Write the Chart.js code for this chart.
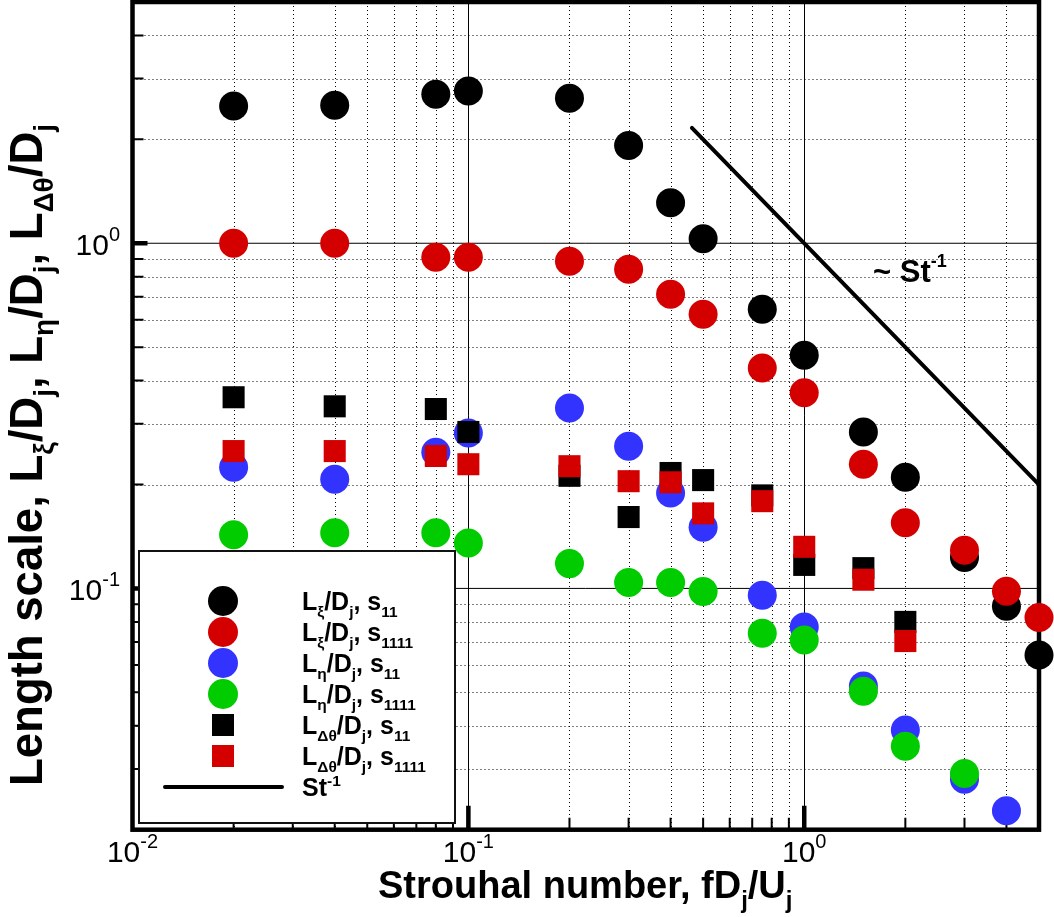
<!DOCTYPE html>
<html><head><meta charset="utf-8">
<script src="https://cdn.jsdelivr.net/npm/chart.js@4"></script>
<style>html,body{margin:0;padding:0;background:#fff;} #wrap{width:1054px;height:917px;position:relative;}</style>
</head><body><div id="wrap"><canvas id="c" width="1054" height="917"></canvas></div>
<script>
// ---- data ----
const strouhal = [0.02, 0.04, 0.08, 0.1, 0.2, 0.3, 0.4, 0.5, 0.75, 1.0, 1.5, 2, 3, 4, 5];
const lXiS11     = [2.50, 2.51, 2.70, 2.76, 2.63, 1.92, 1.31, 1.03, 0.644, 0.474, 0.284, 0.210, 0.123, 0.0888, 0.0641];
const lXiS1111   = [1.00, 1.00, 0.911, 0.911, 0.887, 0.841, 0.712, 0.623, 0.435, 0.369, 0.229, 0.155, 0.129, 0.0982, 0.0824];
const lEtaS11    = [0.2245, 0.207, 0.248, 0.282, 0.333, 0.258, 0.189, 0.1505, 0.0956, 0.0773, 0.0522, 0.0389, 0.0280, 0.0227];
const lEtaS1111  = [0.143, 0.145, 0.145, 0.1355, 0.118, 0.104, 0.104, 0.098, 0.0742, 0.0709, 0.0504, 0.0349, 0.0291];
const lDthS11    = [0.358, 0.337, 0.331, 0.284, 0.212, 0.161, 0.216, 0.206, 0.186, 0.117, 0.1145, 0.080];
const lDthS1111  = [0.250, 0.250, 0.242, 0.229, 0.226, 0.2045, 0.203, 0.165, 0.179, 0.132, 0.106, 0.0704];
const slopeLineX = [0.463, 5];
const slopeLineY = [2.16, 0.2];

const xMajorTicks = [0.01, 0.1, 1];
const xMajorExp   = ['-2', '-1', '0'];
const yMajorTicks = [0.1, 1];
const yMajorExp   = ['-1', '0'];

// legend texts: [text, 0 normal | 1 subscript | 2 superscript]
const legendTexts = [
  [['L',0],['ξ',1],['/D',0],['j',1],[', s',0],['11',1]],
  [['L',0],['ξ',1],['/D',0],['j',1],[', s',0],['1111',1]],
  [['L',0],['η',1],['/D',0],['j',1],[', s',0],['11',1]],
  [['L',0],['η',1],['/D',0],['j',1],[', s',0],['1111',1]],
  [['L',0],['Δθ',1],['/D',0],['j',1],[', s',0],['11',1]],
  [['L',0],['Δθ',1],['/D',0],['j',1],[', s',0],['1111',1]],
  [['St',0],['-1',2]]
];
const xTitle = [['Strouhal number, fD',0],['j',1],['/U',0],['j',1]];
const yTitle = [['Length scale, L',0],['ξ',1],['/D',0],['j',1],[', L',0],['η',1],['/D',0],['j',1],[', L',0],['Δθ',1],['/D',0],['j',1]];
const annotation = [['~ St',0],['-1',2]];

const COLORS = { black:'#000000', red:'#d40000', blue:'#3333ff', green:'#00cc00' };
const FONT = '"Liberation Sans", Arial, Helvetica, sans-serif';

function pts(vals){ return vals.map((v,i)=>({x:strouhal[i], y:v})); }

function setFont(ctx, weight, size){ ctx.font = weight + ' ' + size + 'px ' + FONT; }
function richWidth(ctx, segs, o){
  let w = 0;
  for (const [t,k] of segs){ setFont(ctx, o.weight, k ? o.small : o.size); w += ctx.measureText(t).width; }
  return w;
}
function drawRich(ctx, x, y, segs, o){
  ctx.textAlign = 'left'; ctx.textBaseline = 'alphabetic'; ctx.fillStyle = '#000';
  let cx = x;
  for (const [t,k] of segs){
    setFont(ctx, o.weight, k ? o.small : o.size);
    const dy = k === 1 ? o.subDy : (k === 2 ? o.supDy : 0);
    ctx.fillText(t, cx, y + dy);
    cx += ctx.measureText(t).width;
  }
  return cx - x;
}

const decorPlugin = {
  id: 'decor',
  beforeDatasetsDraw(chart){
    const ctx = chart.ctx, xs = chart.scales.x, ys = chart.scales.y, a = chart.chartArea;
    ctx.save();
    // minor dotted grid
    ctx.lineWidth = 1; ctx.strokeStyle = '#000'; ctx.setLineDash([1,3]);
    const minorX = [], minorY = [];
    for (const d of [0.01, 0.1, 1]) for (let m = 2; m <= 9; m++){
      const v = m * d;
      if (v > 0.01 && v < 5) minorX.push(v);
      if (v > 0.02 && v < 5) minorY.push(v);
    }
    ctx.beginPath();
    for (const v of minorX){ const px = Math.round(xs.getPixelForValue(v)) + 0.5; ctx.moveTo(px, a.top); ctx.lineTo(px, a.bottom); }
    for (const v of minorY){ const py = Math.round(ys.getPixelForValue(v)) + 0.5; ctx.moveTo(a.left, py); ctx.lineTo(a.right, py); }
    ctx.stroke();
    // major solid grid
    ctx.setLineDash([]);
    ctx.beginPath();
    for (const v of [0.1, 1]){ const px = Math.round(xs.getPixelForValue(v)) + 0.5; ctx.moveTo(px, a.top); ctx.lineTo(px, a.bottom); }
    for (const v of [0.1, 1]){ const py = ys.getPixelForValue(v); ctx.moveTo(a.left, py); ctx.lineTo(a.right, py); }
    ctx.stroke();
    // ticks (left & bottom, inward)
    ctx.lineCap = 'butt';
    ctx.lineWidth = 2; ctx.beginPath();
    for (const v of minorY){ const py = ys.getPixelForValue(v); ctx.moveTo(a.left, py); ctx.lineTo(a.left + 11, py); }
    for (const v of minorX){ const px = xs.getPixelForValue(v); ctx.moveTo(px, a.bottom); ctx.lineTo(px, a.bottom - 12); }
    ctx.stroke();
    ctx.lineWidth = 4.5; ctx.beginPath();
    for (const v of yMajorTicks){ const py = ys.getPixelForValue(v); ctx.moveTo(a.left, py); ctx.lineTo(a.left + 15, py); }
    for (const v of [0.1, 1]){ const px = xs.getPixelForValue(v); ctx.moveTo(px, a.bottom); ctx.lineTo(px, a.bottom - 24); }
    ctx.stroke();
    // frame
    ctx.lineWidth = 4.5; ctx.strokeStyle = '#000';
    ctx.strokeRect(a.left, a.top, a.right - a.left, a.bottom - a.top);
    ctx.restore();
  },
  afterDatasetsDraw(chart){
    const ctx = chart.ctx, xs = chart.scales.x, ys = chart.scales.y;
    ctx.save();
    // tick labels x
    const tl = { weight:'normal', size:30, small:20, subDy:0, supDy:-14 };
    xMajorTicks.forEach((v,i)=>{
      const segs = [['10',0],[xMajorExp[i],2]];
      const w = richWidth(ctx, segs, tl);
      drawRich(ctx, xs.getPixelForValue(v) - w/2, 862, segs, tl);
    });
    // tick labels y
    yMajorTicks.forEach((v,i)=>{
      const segs = [['10',0],[yMajorExp[i],2]];
      const w = richWidth(ctx, segs, tl);
      drawRich(ctx, 120 - w, ys.getPixelForValue(v) + 12, segs, tl);
    });
    // x title
    drawRich(ctx, 378, 898, xTitle, { weight:'bold', size:38, small:24, subDy:10, supDy:0 });
    // y title
    ctx.save();
    ctx.translate(42, 786); ctx.rotate(-Math.PI/2);
    drawRich(ctx, 0, 0, yTitle, { weight:'bold', size:45.5, small:28, subDy:11, supDy:0 });
    ctx.restore();
    // annotation
    drawRich(ctx, 873, 282, annotation, { weight:'bold', size:31, small:18, subDy:0, supDy:-15 });
    // legend box
    ctx.fillStyle = '#fff'; ctx.fillRect(139, 551, 316, 272);
    ctx.lineWidth = 2; ctx.strokeStyle = '#111'; ctx.strokeRect(139, 551, 316, 272);
    const marks = [
      ['circle', COLORS.black], ['circle', COLORS.red], ['circle', COLORS.blue], ['circle', COLORS.green],
      ['rect', COLORS.black], ['rect', COLORS.red], ['line', COLORS.black]
    ];
    const lo = { weight:'bold', size:25, small:15.5, subDy:7, supDy:-10 };
    marks.forEach((m,i)=>{
      const cy = 601 + i * 31;
      ctx.fillStyle = m[1]; ctx.strokeStyle = m[1];
      if (m[0] === 'circle'){ ctx.beginPath(); ctx.arc(223, cy, 15, 0, Math.PI*2); ctx.fill(); }
      else if (m[0] === 'rect'){ ctx.fillRect(212, cy - 11, 22, 22); }
      else { ctx.lineWidth = 4; ctx.lineCap = 'round'; ctx.beginPath(); ctx.moveTo(165, cy); ctx.lineTo(282, cy); ctx.stroke(); }
      drawRich(ctx, 302, cy + 9, legendTexts[i], lo);
    });
    ctx.restore();
  }
};

const circ = (label, vals, color, order) => ({ label, data: pts(vals), backgroundColor: color, borderWidth: 0,
  pointStyle: 'circle', pointRadius: 14.5, pointHoverRadius: 14.5, showLine: false, clip: false, order });
const sq = (label, vals, color, order) => ({ label, data: pts(vals), backgroundColor: color, borderWidth: 0,
  pointStyle: 'rect', pointRadius: 15.6, pointHoverRadius: 15.6, showLine: false, clip: false, order });

new Chart(document.getElementById('c'), {
  type: 'scatter',
  data: { datasets: [
    circ('Lxi s11', lXiS11, COLORS.black, 7),
    circ('Lxi s1111', lXiS1111, COLORS.red, 6),
    circ('Leta s11', lEtaS11, COLORS.blue, 5),
    circ('Leta s1111', lEtaS1111, COLORS.green, 4),
    sq('Ldth s11', lDthS11, COLORS.black, 3),
    sq('Ldth s1111', lDthS1111, COLORS.red, 2),
    { label: 'St^-1', data: slopeLineX.map((x,i)=>({x, y: slopeLineY[i]})), showLine: true, borderColor: '#000',
      borderWidth: 4, pointRadius: 0, borderCapStyle: 'round', fill: false, clip: false, order: 1 }
  ]},
  options: {
    responsive: false, animation: false, devicePixelRatio: 1, events: [],
    layout: { autoPadding: false, padding: { left: 132.5, top: 2, right: 15, bottom: 87.3 } },
    plugins: { legend: { display: false }, tooltip: { enabled: false } },
    scales: {
      x: { type: 'logarithmic', min: 0.01, max: 5, display: false },
      y: { type: 'logarithmic', min: 0.02, max: 5, display: false }
    }
  },
  plugins: [decorPlugin]
});
</script></body></html>
